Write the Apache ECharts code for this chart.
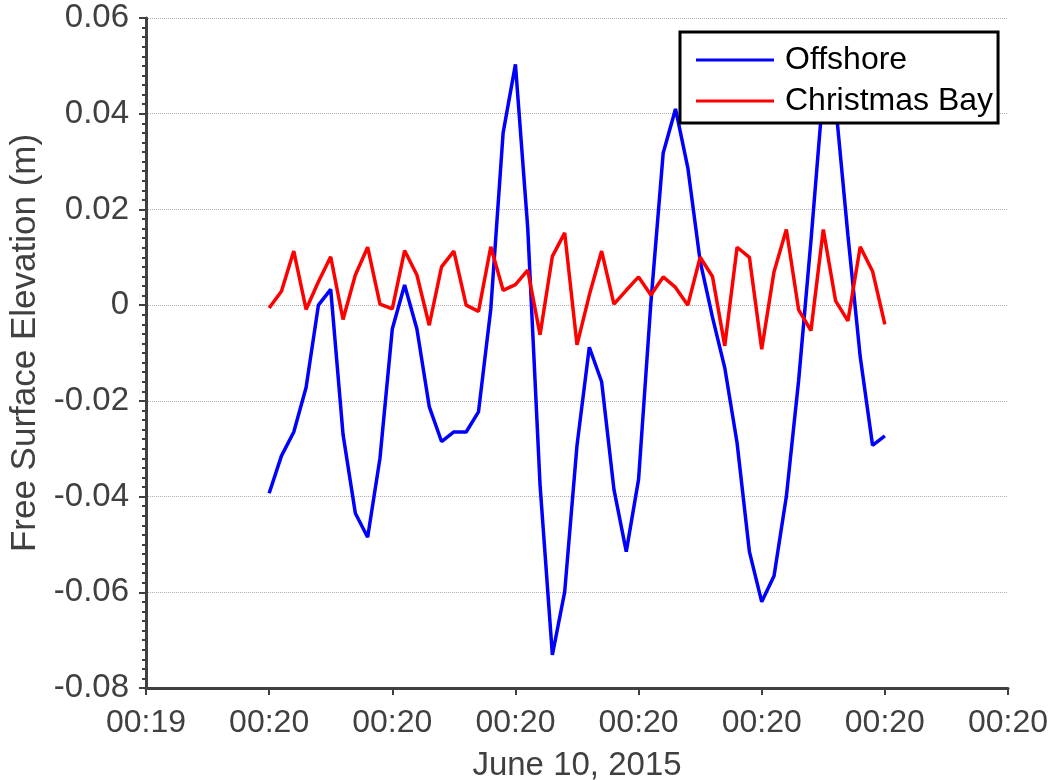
<!DOCTYPE html>
<html>
<head>
<meta charset="utf-8">
<script src="https://cdn.jsdelivr.net/npm/echarts@6/dist/echarts.min.js"></script>
<style>html,body{margin:0;padding:0;background:#fff;}#c{width:1054px;height:780px;}</style>
</head>
<body>
<div id="c"></div>
<script>
// Sample index (x) runs 10..60 on an axis of 0..70 (one tick = 10 samples)
const xTickLabels = ['00:19', '00:20', '00:20', '00:20', '00:20', '00:20', '00:20', '00:20'];
const yTickLabels = ['-0.08', '-0.06', '-0.04', '-0.02', '0', '0.02', '0.04', '0.06'];
const seriesNames = ['Offshore', 'Christmas Bay'];
const offshore = [
  -0.0393, -0.0315, -0.0265, -0.0172, 0.0000, 0.0033, -0.0270, -0.0435, -0.0485, -0.0320,
  -0.0050, 0.0042, -0.0050, -0.0212, -0.0285, -0.0265, -0.0265, -0.0223, -0.0008, 0.0360,
  0.0503, 0.0161, -0.0376, -0.0731, -0.0599, -0.0293, -0.0088, -0.0160, -0.0385, -0.0515,
  -0.0364, 0.0005, 0.0318, 0.0410, 0.0287, 0.0092, -0.0025, -0.0131, -0.0288, -0.0515,
  -0.0620, -0.0566, -0.0400, -0.0157, 0.0135, 0.0450, 0.0420, 0.0146, -0.0108, -0.0293,
  -0.0273
];
const christmasBay = [
  -0.0006, 0.0029, 0.0113, -0.0009, 0.0049, 0.0101, -0.0030, 0.0063, 0.0121, 0.0002,
  -0.0008, 0.0114, 0.0063, -0.0042, 0.0080, 0.0113, 0.0000, -0.0013, 0.0122, 0.0031,
  0.0043, 0.0073, -0.0062, 0.0102, 0.0151, -0.0083, 0.0021, 0.0113, 0.0002, 0.0031,
  0.0059, 0.0021, 0.0059, 0.0037, 0.0000, 0.0100, 0.0060, -0.0085, 0.0121, 0.0100,
  -0.0092, 0.0070, 0.0158, -0.0010, -0.0053, 0.0158, 0.0009, -0.0033, 0.0122, 0.0071,
  -0.0040
];
const xStart = 10;

function toPairs(arr) { return arr.map((v, i) => [xStart + i, v]); }

const axisColor = '#404040';
const font = '"Liberation Sans", Arial, sans-serif';

const chart = echarts.init(document.getElementById('c'), null, { renderer: 'canvas' });
chart.setOption({
  animation: false,
  backgroundColor: '#ffffff',
  grid: { left: 146, right: 46, top: 18, bottom: 92, containLabel: false, outerBoundsMode: 'none' },
  legend: {
    orient: 'vertical',
    left: 680, top: 32,
    backgroundColor: '#ffffff',
    borderColor: '#000000',
    borderWidth: 3,
    borderRadius: 0,
    padding: [12, 5, 6, 16],
    itemGap: 9,
    itemWidth: 78,
    itemHeight: 3,
    icon: 'rect',
    z: 10,
    textStyle: { fontFamily: font, fontSize: 32, color: '#000000', padding: [0, 0, 0, 6] },
    data: seriesNames
  },
  xAxis: {
    type: 'value',
    min: 0, max: 70, interval: 10,
    name: 'June 10, 2015',
    nameLocation: 'middle',
    nameGap: 61,
    nameTextStyle: { fontFamily: font, fontSize: 33, color: axisColor },
    axisLine: { show: true, onZero: false, lineStyle: { color: axisColor, width: 3 } },
    axisTick: { show: true, length: 7, lineStyle: { color: axisColor, width: 2 } },
    axisLabel: {
      fontFamily: font, fontSize: 32, color: axisColor, margin: 19,
      formatter: v => xTickLabels[Math.round(v / 10)]
    },
    splitLine: { show: false }
  },
  yAxis: [{
    type: 'value',
    min: -0.08, max: 0.06, interval: 0.02,
    name: 'Free Surface Elevation (m)',
    nameLocation: 'middle',
    nameGap: 102,
    nameTextStyle: { fontFamily: font, fontSize: 35, color: axisColor, padding: [0, 0, 0, 20] },
    axisLine: { show: true, onZero: false, lineStyle: { color: axisColor, width: 3 } },
    axisTick: { show: true, length: 7, lineStyle: { color: axisColor, width: 2 } },
    minorTick: { show: true, splitNumber: 10, length: 4, lineStyle: { color: axisColor, width: 2 } },
    axisLabel: {
      fontFamily: font, fontSize: 33, color: axisColor, margin: 17,
      formatter: v => yTickLabels[Math.round((v + 0.08) / 0.02)]
    },
    splitLine: { show: true, lineStyle: { color: '#b0b0b0', width: 1, type: 'dotted' } }
  }, {
    type: 'value',
    position: 'right',
    min: -0.08, max: 0.06, interval: 0.02,
    axisLine: { show: false },
    axisTick: { show: true, inside: true, length: 6, lineStyle: { color: axisColor, width: 1 } },
    axisLabel: { show: false },
    splitLine: { show: false }
  }],
  series: [{
    name: seriesNames[0],
    type: 'line',
    data: toPairs(offshore),
    showSymbol: false,
    symbol: 'none',
    lineStyle: { color: '#0000ff', width: 3.5 },
    itemStyle: { color: '#0000ff' },
    z: 3
  }, {
    name: seriesNames[1],
    type: 'line',
    data: toPairs(christmasBay),
    showSymbol: false,
    symbol: 'none',
    lineStyle: { color: '#ff0000', width: 3.5 },
    itemStyle: { color: '#ff0000' },
    z: 3
  }]
});
</script>
</body>
</html>
